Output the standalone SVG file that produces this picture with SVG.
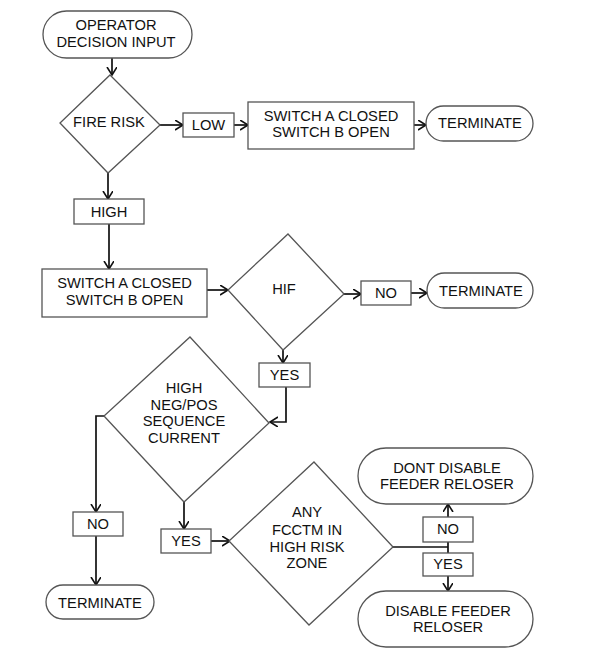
<svg xmlns="http://www.w3.org/2000/svg" width="590" height="659" viewBox="0 0 590 659">
<style>
.s{fill:#fff;stroke:#555;stroke-width:1.3}
.t{font-family:"Liberation Sans",Arial,sans-serif;font-size:14.7px;fill:#111;text-anchor:middle}
.c{fill:none;stroke:#111;stroke-width:1.7}
</style>
<defs>
<marker id="a" markerUnits="userSpaceOnUse" markerWidth="12" markerHeight="12" refX="8" refY="5" orient="auto">
<path d="M0,0 L8,5 L0,10" fill="none" stroke="#111" stroke-width="1.6"/>
</marker>
</defs>
<rect width="590" height="659" fill="#fff"/>
<g id="connectors">
<path class="c" d="M112,58 V75" marker-end="url(#a)"/>
<path class="c" d="M160,125 H183" marker-end="url(#a)"/>
<path class="c" d="M234,125 H248" marker-end="url(#a)"/>
<path class="c" d="M414,125 H426" marker-end="url(#a)"/>
<path class="c" d="M108,173 V199" marker-end="url(#a)"/>
<path class="c" d="M109,224 V269" marker-end="url(#a)"/>
<path class="c" d="M207,290 H228" marker-end="url(#a)"/>
<path class="c" d="M344,294 H361" marker-end="url(#a)"/>
<path class="c" d="M411,293 H427" marker-end="url(#a)"/>
<path class="c" d="M283,350 V363" marker-end="url(#a)"/>
<path class="c" d="M286,387 V422 H270" marker-end="url(#a)"/>
<path class="c" d="M104,416 H96 V512" marker-end="url(#a)"/>
<path class="c" d="M96,536 V585" marker-end="url(#a)"/>
<path class="c" d="M184,502 V529" marker-end="url(#a)"/>
<path class="c" d="M211,541 H230" marker-end="url(#a)"/>
<path class="c" d="M393,547 H448 M448,542 V553"/>
<path class="c" d="M448,517 V504" marker-end="url(#a)"/>
<path class="c" d="M448,576 V591" marker-end="url(#a)"/>
</g>
<g id="operator-input"><rect class="s" x="43" y="11" width="149" height="47" rx="23.5"/><text class="t" x="116" y="30">OPERATOR</text><text class="t" x="116" y="47">DECISION INPUT</text></g>
<g id="fire-risk"><polygon class="s" points="110,75 160,125 108,173 60,123"/><text class="t" x="109" y="127">FIRE RISK</text></g>
<g id="low"><rect class="s" x="183" y="113" width="51" height="24"/><text class="t" x="208.5" y="130">LOW</text></g>
<g id="switch-1"><rect class="s" x="248" y="102" width="166" height="47"/><text class="t" x="331" y="121">SWITCH A CLOSED</text><text class="t" x="331" y="137">SWITCH B OPEN</text></g>
<g id="terminate-1"><rect class="s" x="426" y="106" width="107" height="35" rx="17.5"/><text class="t" x="480" y="128">TERMINATE</text></g>
<g id="high"><rect class="s" x="74" y="199" width="70" height="25"/><text class="t" x="109" y="217">HIGH</text></g>
<g id="switch-2"><rect class="s" x="42" y="269" width="165" height="48"/><text class="t" x="124.5" y="288">SWITCH A CLOSED</text><text class="t" x="124.5" y="305">SWITCH B OPEN</text></g>
<g id="hif"><polygon class="s" points="288,234 344,294 283,350 228,290"/><text class="t" x="284" y="294">HIF</text></g>
<g id="no-1"><rect class="s" x="361" y="281" width="50" height="24"/><text class="t" x="386" y="298">NO</text></g>
<g id="terminate-2"><rect class="s" x="427" y="273" width="106" height="35" rx="17.5"/><text class="t" x="481" y="296">TERMINATE</text></g>
<g id="yes-1"><rect class="s" x="259" y="363" width="51" height="24"/><text class="t" x="284.5" y="380">YES</text></g>
<g id="neg-pos"><polygon class="s" points="190,337 269,423 184,502 104,416"/><text class="t" x="184" y="393">HIGH</text><text class="t" x="184" y="410">NEG/POS</text><text class="t" x="184" y="426">SEQUENCE</text><text class="t" x="184" y="443">CURRENT</text></g>
<g id="no-2"><rect class="s" x="73" y="512" width="50" height="24"/><text class="t" x="98" y="529">NO</text></g>
<g id="terminate-3"><rect class="s" x="46" y="585" width="108" height="34" rx="17"/><text class="t" x="100" y="608">TERMINATE</text></g>
<g id="yes-2"><rect class="s" x="161" y="529" width="50" height="24"/><text class="t" x="186" y="546">YES</text></g>
<g id="fcctm"><polygon class="s" points="314,462 393,547 309,625 229,541"/><text class="t" x="307" y="517">ANY</text><text class="t" x="307" y="535">FCCTM IN</text><text class="t" x="307" y="552">HIGH RISK</text><text class="t" x="307" y="568">ZONE</text></g>
<g id="no-3"><rect class="s" x="423" y="517" width="50" height="25"/><text class="t" x="448" y="534">NO</text></g>
<g id="yes-3"><rect class="s" x="423" y="553" width="50" height="23"/><text class="t" x="448" y="569">YES</text></g>
<g id="dont-disable"><rect class="s" x="358" y="448" width="175" height="56" rx="28"/><text class="t" x="447" y="473">DONT DISABLE</text><text class="t" x="447" y="489">FEEDER RELOSER</text></g>
<g id="disable"><rect class="s" x="358" y="591" width="175" height="56" rx="28"/><text class="t" x="448" y="616">DISABLE FEEDER</text><text class="t" x="448" y="632">RELOSER</text></g>
</svg>
